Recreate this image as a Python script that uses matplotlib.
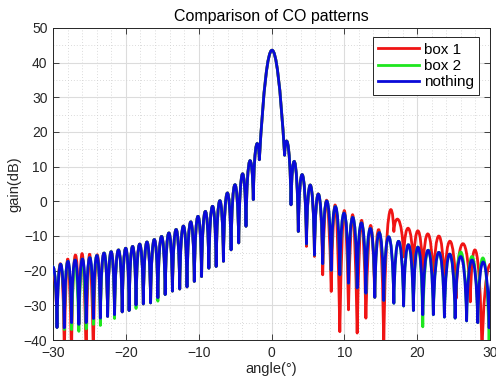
import numpy as np
import matplotlib
matplotlib.use('Agg')
import matplotlib.pyplot as plt
from matplotlib.path import Path
from matplotlib.patches import PathPatch
from matplotlib.lines import Line2D

plt.rcParams['font.family'] = ['Liberation Sans', 'DejaVu Sans']

# ---------------- data ----------------
# "nothing" (blue): null angles / gains and lobe-peak angles / gains
blue_null_x = [-30.45, -29.45, -28.45, -27.45, -26.45, -25.45, -24.45, -23.5, -22.5, -21.55,
               -20.5, -19.55, -18.6, -17.6, -16.6, -15.6, -14.6, -13.6, -12.6, -11.6,
               -10.6, -9.6, -8.6, -7.6, -6.6, -5.55, -4.5, -3.5, -2.5, -1.67,
               1.8, 2.68, 3.68, 4.8, 5.9, 7.03, 8.2, 9.38, 10.57, 11.76,
               12.96, 14.18, 15.41, 16.8, 18.14, 19.48, 20.77, 22.22, 23.74, 25.21,
               26.79, 28.32, 29.88, 31.45]
blue_null_db = [-30, -36.4, -36.5, -35.0, -35.5, -35.0, -33.8, -33.7, -33.2, -32.7,
                -31.9, -31.5, -29.9, -29.6, -29.3, -27.8, -26.9, -25.9, -25.3, -24.7,
                -23.1, -21.7, -19.3, -18.8, -17.3, -14.0, -12.0, -7.2, 0.5, 12.0,
                13.3, -1.0, -8.7, -12.3, -15.5, -18.0, -19.9, -21.2, -23.6, -25.0,
                -26.5, -27.7, -28.6, -29.4, -30.2, -31.5, -32.7, -32.7, -33.4, -33.7,
                -34.5, -35.0, -36.5, -30]
blue_peak_x = [-29.95, -28.96, -28.0, -27.0, -26.0, -25.0, -24.0, -23.0, -22.0, -21.0,
               -20.0, -19.1, -18.1, -17.1, -16.1, -15.1, -14.1, -13.1, -12.1, -11.1,
               -10.1, -9.1, -8.1, -7.1, -6.1, -5.05, -4.0, -3.0, -2.05, 0.05,
               2.17, 3.14, 4.2, 5.3, 6.4, 7.55, 8.75, 9.98, 11.15, 12.35,
               13.6, 14.8, 16.05, 17.4, 18.8, 20.1, 21.5, 23.0, 24.45, 25.95,
               27.45, 29.0, 30.65]
blue_peak_db = [-19.0, -18.1, -17.3, -16.9, -16.6, -16.2, -15.6, -14.9, -14.5, -14.0,
                -13.5, -13.0, -12.3, -11.7, -11.0, -10.1, -9.1, -8.1, -7.1, -5.9,
                -4.3, -2.9, -1.4, 0.2, 2.4, 4.8, 7.9, 11.6, 16.2, 43.6,
                16.7, 11.4, 7.7, 4.7, 2.1, 0.1, -1.5, -3.4, -4.6, -6.2,
                -7.8, -9.0, -10.2, -11.5, -12.5, -13.2, -14.1, -14.7, -15.2, -15.9,
                -16.9, -17.5, -18.0]

# "box 2" (green)
green_null_x = list(blue_null_x)
green_null_db = [-30, -36.4, -37.0, -37.0, -37.5, -36.8, -35.5, -35.8, -33.2, -33.8,
                 -31.9, -31.5, -30.9, -29.6, -29.3, -28.8, -26.9, -25.9, -25.3, -24.7,
                 -23.1, -21.7, -19.3, -18.8, -17.3, -14.0, -12.0, -7.2, 0.5, 12.0,
                 13.3, -1.0, -8.7, -12.3, -15.5, -18.0, -19.9, -21.2, -23.6, -25.0,
                 -26.5, -27.7, -28.6, -29.4, -30.2, -31.5, -36.2, -32.7, -33.4, -33.7,
                 -34.5, -35.0, -42.0, -30]
green_peak_x = list(blue_peak_x)
green_peak_db = [-19.0, -18.1, -17.3, -16.9, -16.6, -16.2, -15.6, -14.9, -14.5, -14.0,
                 -13.5, -13.0, -12.3, -11.7, -11.0, -10.1, -9.1, -8.1, -7.1, -5.9,
                 -4.3, -2.9, -1.4, 0.2, 2.4, 4.8, 7.9, 11.6, 16.2, 43.6,
                 16.7, 11.4, 7.7, 4.7, 2.1, 0.1, -1.5, -3.4, -4.6, -6.2,
                 -7.8, -9.0, -10.2, -11.5, -12.5, -13.2, -14.1, -14.7, -15.2, -14.6,
                 -15.9, -16.4, -16.5]

# "box 1" (red)
red_null_x = [-30.45, -29.45, -28.45, -27.45, -26.45, -25.45, -24.45, -23.5, -22.5, -21.55,
              -20.5, -19.55, -18.6, -17.6, -16.6, -15.6, -14.6, -13.6, -12.6, -11.6,
              -10.6, -9.6, -8.6, -7.6, -6.6, -5.55, -4.5, -3.5, -2.5, -1.67,
              1.8, 2.68, 3.68, 4.8, 5.9, 7.03, 8.2, 9.38, 10.57, 11.76,
              12.96, 14.18, 15.41, 16.8, 18.14, 19.48, 20.77, 22.22, 23.74, 25.35,
              27.3, 28.9, 30.9]
red_null_db = [-30, -36.4, -45, -45, -35.5, -45, -45, -33.7, -33.2, -32.7,
               -31.9, -31.5, -29.9, -29.6, -29.3, -27.8, -26.9, -25.9, -25.3, -24.7,
               -23.1, -21.7, -19.3, -18.8, -17.3, -14.0, -12.0, -7.2, 0.5, 12.0,
               13.3, -1.0, -8.7, -13.0, -15.9, -21.2, -26.0, -37.6, -31.3, -38.0,
               -33.7, -27.7, -45, -8.7, -16.0, -20.0, -22.0, -25.0, -26.0, -28.0,
               -29.0, -45, -30]
red_peak_x = [-29.95, -28.96, -28.0, -27.0, -26.0, -25.0, -24.0, -23.0, -22.0, -21.0,
              -20.0, -19.1, -18.1, -17.1, -16.1, -15.1, -14.1, -13.1, -12.1, -11.1,
              -10.1, -9.1, -8.1, -7.1, -6.1, -5.05, -4.0, -3.0, -2.05, 0.05,
              2.17, 3.14, 4.2, 5.3, 6.4, 7.55, 8.75, 9.98, 11.15, 12.35,
              13.6, 14.8, 16.05, 17.4, 18.8, 20.1, 21.5, 23.0, 24.45, 26.2,
              27.95, 29.9]
red_peak_db = [-20.5, -18.1, -16.6, -15.6, -15.2, -15.2, -15.6, -14.9, -14.5, -14.0,
               -13.5, -13.0, -12.3, -11.7, -11.0, -10.1, -9.1, -8.1, -7.1, -5.9,
               -4.3, -2.9, -1.4, 0.2, 2.4, 4.8, 7.9, 11.6, 16.2, 43.6,
               16.7, 11.4, 7.7, 4.7, 2.1, 0.3, -1.2, -2.7, -3.9, -5.5,
               -7.0, -8.5, -4.6, -5.4, -7.8, -8.5, -9.4, -10.0, -11.5, -12.2,
               -14.4, -18.5]

series_labels = ['box 1', 'box 2', 'nothing']
series_colors = ['#f01414', '#1ee61e', '#0a0ad8']

x_ticks = [-30, -20, -10, 0, 10, 20, 30]
y_ticks = [-40, -30, -20, -10, 0, 10, 20, 30, 40, 50]


def lobe_path(nx, ny, px, py, side=0.3, main=0.67):
    """Arch-shaped Bezier segments from null to null through each lobe peak."""
    verts = [(nx[0], ny[0])]
    codes = [Path.MOVETO]
    for i in range(len(px)):
        x0, y0, x1, y1 = nx[i], ny[i], nx[i + 1], ny[i + 1]
        xp, yp = px[i], py[i]
        a = main if yp - max(y0, y1) > 20 else side
        h = (yp - 0.125 * (y0 + y1)) / 0.75
        verts += [(x0 + a * (xp - x0), h), (x1 - a * (x1 - xp), h), (x1, y1)]
        codes += [Path.CURVE4] * 3
    return Path(verts, codes)


fig = plt.figure(figsize=(4.96, 3.78), dpi=100)
ax = fig.add_axes([53 / 496, 1 - 340 / 378, 437 / 496, 312 / 378])

data = [(red_null_x, red_null_db, red_peak_x, red_peak_db),
        (green_null_x, green_null_db, green_peak_x, green_peak_db),
        (blue_null_x, blue_null_db, blue_peak_x, blue_peak_db)]
for k, (nx, ny, px, py) in enumerate(data):
    patch = PathPatch(lobe_path(nx, ny, px, py), fill=False, edgecolor=series_colors[k],
                      lw=2.0, joinstyle='round', capstyle='round', zorder=3 + k)
    ax.add_patch(patch)

ax.set_xlim(-30, 30)
ax.set_ylim(-40, 50)
ax.set_xticks(x_ticks)
ax.set_yticks(y_ticks)
ax.set_xticks(np.arange(-30, 31, 2), minor=True)
ax.set_yticks(np.arange(-40, 51, 5), minor=True)
ax.grid(which='major', color='#dcdcdc', lw=0.8)
ax.grid(which='minor', color='#cfcfcf', lw=0.6, ls=(0, (1, 2.5)))
ax.set_axisbelow(True)
ax.tick_params(which='major', direction='in', top=True, right=True, length=4,
               width=0.6, colors='#262626', labelsize=10, pad=4)
ax.tick_params(which='minor', length=0)
for sp in ax.spines.values():
    sp.set_color('#262626')
    sp.set_linewidth(0.7)

ax.set_title('Comparison of CO patterns', fontsize=11.5, pad=5)
ax.set_xlabel('angle(°)', fontsize=10.5, color='#262626', labelpad=2)
ax.set_ylabel('gain(dB)', fontsize=10.5, color='#262626', labelpad=2)

handles = [Line2D([], [], color=c, lw=2.0) for c in series_colors]
leg = ax.legend(handles, series_labels, loc='upper right', bbox_to_anchor=(0.975, 0.97),
                borderaxespad=0, fontsize=11, handlelength=2.7, handletextpad=0.3,
                labelspacing=0.15, frameon=True, fancybox=False, edgecolor='#262626',
                framealpha=1, borderpad=0.35)
leg.get_frame().set_linewidth(0.7)
leg.set_zorder(10)

fig.savefig('out.png', dpi=100)
